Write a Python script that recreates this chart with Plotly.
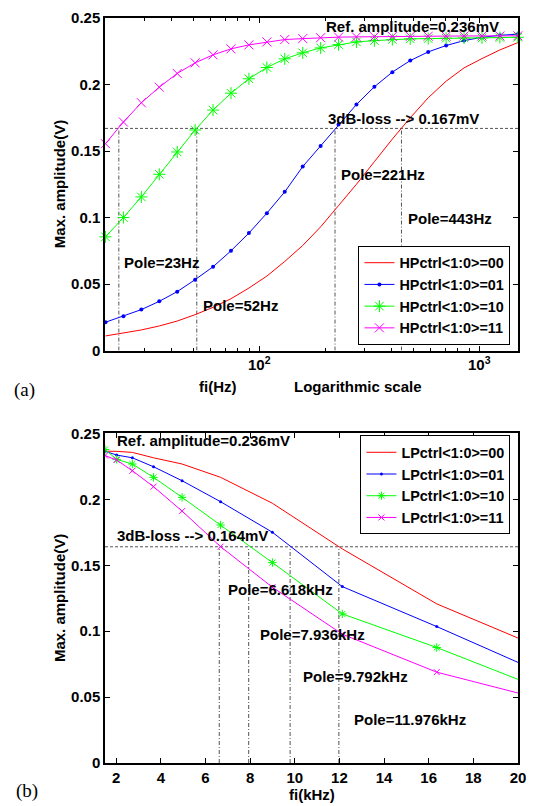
import numpy as np
import plotly.graph_objects as go

# ---------------- (a) High-pass control, frequency in Hz ----------------
hp_freq_hz = [20.0, 24.13, 29.11, 35.12, 42.37, 51.11, 61.66, 74.39, 89.74, 108.3,
              130.6, 157.6, 190.1, 229.3, 276.6, 333.7, 402.6, 485.7, 585.9, 706.9,
              852.8, 1028.8, 1241.2, 1497.4]
hp00 = [0.011, 0.013, 0.0155, 0.0185, 0.0222, 0.027, 0.0325, 0.039, 0.047, 0.056,
        0.067, 0.079, 0.093, 0.109, 0.125, 0.142, 0.159, 0.175, 0.19, 0.2025,
        0.2125, 0.2195, 0.226, 0.2315]
hp01 = [0.0213, 0.0258, 0.0308, 0.037, 0.0443, 0.0533, 0.063, 0.075, 0.0883, 0.1033,
        0.1193, 0.1383, 0.1538, 0.170, 0.185, 0.1983, 0.2093, 0.218, 0.2245, 0.2293,
        0.233, 0.2355, 0.237, 0.2378]
hp10 = [0.0855, 0.1, 0.1155, 0.1325, 0.1493, 0.1658, 0.1808, 0.1935, 0.2043, 0.2128,
        0.2193, 0.2238, 0.2275, 0.230, 0.232, 0.233, 0.2338, 0.2343, 0.2345, 0.2348,
        0.235, 0.235, 0.2353, 0.2355]
hp11 = [0.1555, 0.1718, 0.1863, 0.198, 0.2083, 0.2163, 0.2223, 0.2268, 0.2298, 0.232,
        0.2338, 0.2345, 0.2352, 0.2356, 0.2358, 0.236, 0.2361, 0.2362, 0.2363, 0.2364,
        0.2365, 0.2365, 0.2365, 0.2366]
hp_names = ["HPctrl&lt;1:0&gt;=00", "HPctrl&lt;1:0&gt;=01", "HPctrl&lt;1:0&gt;=10", "HPctrl&lt;1:0&gt;=11"]
hp_poles_hz = [23, 52, 221, 443]
hp_3db = 0.167
hp_xrange_hz = [19.9, 1500]

# ---------------- (b) Low-pass control, frequency in kHz ----------------
lp_freq_khz = [1.5, 2.022, 2.726, 3.674, 4.953, 6.677, 9.0, 12.13, 16.36, 22.05]
lp00 = [0.2365, 0.2364, 0.2356, 0.2315, 0.2268, 0.2167, 0.197, 0.1624, 0.1207, 0.0802]
lp01 = [0.2365, 0.2336, 0.2315, 0.2247, 0.2141, 0.1982, 0.175, 0.1338, 0.1035, 0.061]
lp10 = [0.2378, 0.2303, 0.2268, 0.2167, 0.2015, 0.1805, 0.152, 0.1131, 0.0876, 0.0498]
lp11 = [0.2332, 0.2298, 0.2217, 0.2096, 0.1911, 0.1641, 0.1333, 0.0977, 0.0689, 0.0442]
lp_names = ["LPctrl&lt;1:0&gt;=00", "LPctrl&lt;1:0&gt;=01", "LPctrl&lt;1:0&gt;=10", "LPctrl&lt;1:0&gt;=11"]
lp_poles_khz = [6.618, 7.936, 9.792, 11.976]
lp_3db = 0.164
lp_xrange_khz = [1.5, 20]

y_ticks = [0, 0.05, 0.1, 0.15, 0.2, 0.25]
y_ticktext = ["0", "0.05", "0.1", "0.15", "0.2", "0.25"]
lp_xticks = [2, 4, 6, 8, 10, 12, 14, 16, 18, 20]

FONT = "Liberation Sans, Arial, Helvetica, sans-serif"
colors = ["#FF0000", "#0000FF", "#00FF00", "#FF00FF"]

fig = go.Figure()

ref_style = dict(color="#555555", width=1)

# reference lines (a)
for p in hp_poles_hz:
    fig.add_trace(go.Scatter(x=[p, p], y=[0, hp_3db], mode="lines", xaxis="x", yaxis="y",
                             line=dict(ref_style, dash="4px,2px,1px,2px"),
                             showlegend=False, hoverinfo="skip"))
fig.add_trace(go.Scatter(x=hp_xrange_hz, y=[hp_3db, hp_3db], mode="lines", xaxis="x", yaxis="y",
                         line=dict(ref_style, dash="3px,2px"), showlegend=False, hoverinfo="skip"))

# reference lines (b)
for p in lp_poles_khz:
    fig.add_trace(go.Scatter(x=[p, p], y=[0, lp_3db], mode="lines", xaxis="x2", yaxis="y2",
                             line=dict(ref_style, dash="4px,2px,1px,2px"),
                             showlegend=False, hoverinfo="skip"))
fig.add_trace(go.Scatter(x=lp_xrange_khz, y=[lp_3db, lp_3db], mode="lines", xaxis="x2", yaxis="y2",
                         line=dict(ref_style, dash="3px,2px"), showlegend=False, hoverinfo="skip"))

# curves (a)
hp_series = [hp00, hp01, hp10, hp11]
hp_markers = [None,
              dict(symbol="circle", size=4, color=colors[1]),
              dict(symbol="asterisk-open", size=10, color=colors[2], line=dict(color=colors[2], width=1)),
              dict(symbol="x-thin-open", size=9, color=colors[3], line=dict(color=colors[3], width=1))]
for i, ys in enumerate(hp_series):
    kw = dict(mode="lines") if hp_markers[i] is None else dict(mode="lines+markers", marker=hp_markers[i])
    fig.add_trace(go.Scatter(x=hp_freq_hz, y=ys, name=hp_names[i], xaxis="x", yaxis="y",
                             line=dict(color=colors[i], width=1), cliponaxis=False,
                             legend="legend", **kw))

# curves (b)
lp_series = [lp00, lp01, lp10, lp11]
lp_markers = [None,
              dict(symbol="circle", size=3, color=colors[1]),
              dict(symbol="asterisk-open", size=7, color=colors[2], line=dict(color=colors[2], width=1)),
              dict(symbol="x-thin-open", size=6, color=colors[3], line=dict(color=colors[3], width=1))]
for i, ys in enumerate(lp_series):
    kw = dict(mode="lines") if lp_markers[i] is None else dict(mode="lines+markers", marker=lp_markers[i])
    fig.add_trace(go.Scatter(x=lp_freq_khz, y=ys, name=lp_names[i], xaxis="x2", yaxis="y2",
                             line=dict(color=colors[i], width=1), cliponaxis=True,
                             legend="legend2", **kw))

tickfont = dict(family=FONT, size=15, color="black", weight="bold")
axis_common = dict(showline=True, linecolor="black", linewidth=1.5, mirror="ticks",
                   ticks="inside", ticklen=5, tickwidth=1, tickcolor="black",
                   tickfont=tickfont, showgrid=False, zeroline=False)

minor_vals = [20, 30, 40, 50, 60, 70, 80, 90, 200, 300, 400, 500, 600, 700, 800, 900]
legfont = dict(family=FONT, size=14.4, color="black", weight="bold")

fig.update_layout(
    width=535, height=806,
    margin=dict(l=105, r=9, t=17, b=43),
    paper_bgcolor="white", plot_bgcolor="white",
    font=dict(family=FONT, size=15, color="black"),
    xaxis=dict(axis_common, type="log", range=[np.log10(hp_xrange_hz[0]), np.log10(hp_xrange_hz[1])],
               tickmode="array", tickvals=[100, 1000], ticktext=["10<sup>2</sup>", "10<sup>3</sup>"],
               minor=dict(tickmode="array", tickvals=minor_vals, ticks="inside", ticklen=3,
                          tickcolor="black", tickwidth=1),
               anchor="y", domain=[0, 1]),
    yaxis=dict(axis_common, range=[0, 0.25], tickmode="array", tickvals=y_ticks, ticktext=y_ticktext,
               anchor="x", domain=[0.5536, 1]),
    xaxis2=dict(axis_common, range=lp_xrange_khz, tickmode="array", tickvals=lp_xticks,
                anchor="y2", domain=[0, 1]),
    yaxis2=dict(axis_common, range=[0, 0.25], tickmode="array", tickvals=y_ticks, ticktext=y_ticktext,
                anchor="x2", domain=[0, 0.4424]),
    legend=dict(x=0.9817, y=0.5613, xanchor="right", yanchor="bottom",
                bgcolor="white", bordercolor="black", borderwidth=1,
                font=legfont, tracegroupgap=0, itemwidth=30),
    legend2=dict(x=0.9817, y=0.4397, xanchor="right", yanchor="top",
                 bgcolor="white", bordercolor="black", borderwidth=1,
                 font=legfont, tracegroupgap=0, itemwidth=30),
    showlegend=True,
)

bold = dict(family=FONT, size=15, color="black", weight="bold")
ann = []
# (a) texts, x given in log10 units of the log axis
for txt, lx, yv in [("Ref. amplitude=0.236mV", 2.299, 0.2438),
                    ("3dB-loss --&gt; 0.167mV", 2.307, 0.1745),
                    ("Pole=221Hz", 2.366, 0.1325),
                    ("Pole=443Hz", 2.670, 0.0995),
                    ("Pole=23Hz", 1.382, 0.0663),
                    ("Pole=52Hz", 1.738, 0.0338)]:
    ann.append(dict(text=txt, x=lx, y=yv, xref="x", yref="y", xanchor="left", yanchor="middle",
                    showarrow=False, font=bold, borderpad=0))
# (b) texts
for txt, xv, yv in [("Ref. amplitude=0.236mV", 2.0, 0.2449),
                    ("3dB-loss --&gt; 0.164mV", 2.0, 0.1722),
                    ("Pole=6.618kHz", 6.98, 0.1318),
                    ("Pole=7.936kHz", 8.40, 0.0977),
                    ("Pole=9.792kHz", 10.32, 0.0656),
                    ("Pole=11.976kHz", 12.62, 0.0328)]:
    ann.append(dict(text=txt, x=xv, y=yv, xref="x2", yref="y2", xanchor="left", yanchor="middle",
                    showarrow=False, font=bold, borderpad=0))
# axis titles and panel labels
ann += [
    dict(text="Max. amplitude(V)", x=-0.1116, y=0.7768, xref="paper", yref="paper", textangle=-90,
         xanchor="center", yanchor="middle", showarrow=False, font=bold),
    dict(text="Max. amplitude(V)", x=-0.1116, y=0.2212, xref="paper", yref="paper", textangle=-90,
         xanchor="center", yanchor="middle", showarrow=False, font=bold),
    dict(text="fi(Hz)", x=0.2732, y=0.5054, xref="paper", yref="paper",
         xanchor="center", yanchor="middle", showarrow=False, font=bold),
    dict(text="Logarithmic scale", x=0.6116, y=0.5054, xref="paper", yref="paper",
         xanchor="center", yanchor="middle", showarrow=False, font=bold),
    dict(text="fi(kHz)", x=0.5, y=-0.0425, xref="paper", yref="paper",
         xanchor="center", yanchor="middle", showarrow=False, font=bold),
    dict(text="(a)", x=-0.1948, y=0.5010, xref="paper", yref="paper", xanchor="center", yanchor="middle",
         showarrow=False, font=dict(family="Liberation Serif, Times New Roman, serif", size=19, color="black")),
    dict(text="(b)", x=-0.1888, y=-0.0375, xref="paper", yref="paper", xanchor="center", yanchor="middle",
         showarrow=False, font=dict(family="Liberation Serif, Times New Roman, serif", size=19, color="black")),
]
fig.update_layout(annotations=ann)

fig.write_html("out.html", config={"displayModeBar": False},
               post_script="document.body.style.margin='0';document.body.style.padding='0';")
